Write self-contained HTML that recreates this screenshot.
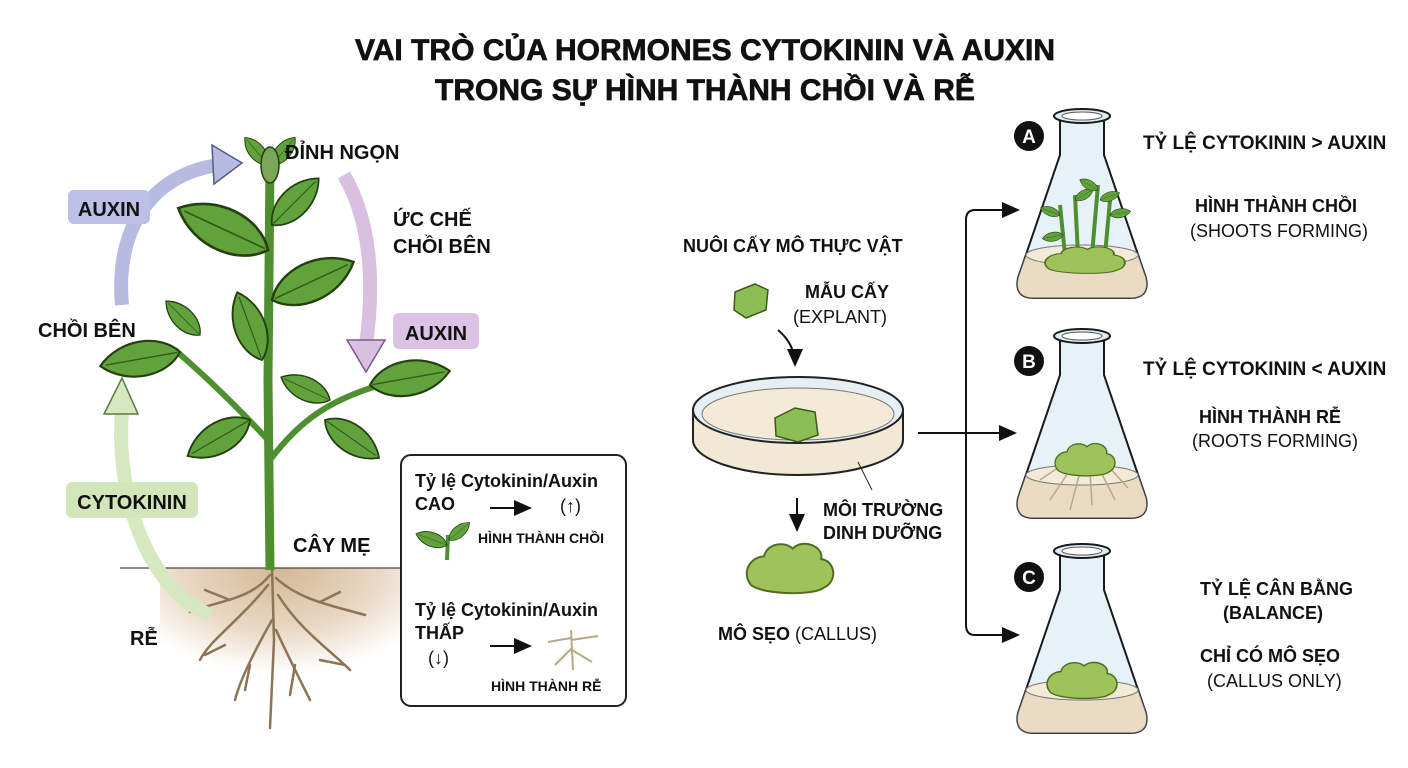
<!DOCTYPE html>
<html><head><meta charset="utf-8"><style>
body{margin:0;background:#fff;}
svg{display:block;}
text{font-family:"Liberation Sans","DejaVu Sans",sans-serif;font-weight:bold;fill:#111;}
.n{font-weight:normal;}
</style></head><body>
<svg width="1408" height="768" viewBox="0 0 1408 768" xmlns="http://www.w3.org/2000/svg">
<defs>
<radialGradient id="soilr" cx="0.5" cy="0" r="0.7"><stop offset="0" stop-color="#d4b694"/><stop offset="0.6" stop-color="#ead9c6"/><stop offset="1" stop-color="#fff"/></radialGradient>
<marker id="ah" markerWidth="10" markerHeight="10" refX="8" refY="5" orient="auto"><path d="M0,1 L9,5 L0,9 Z" fill="#111"/></marker>
<g id="leaf"><path d="M0,0 C12,-16 42,-18 60,0 C42,18 12,16 0,0 Z" fill="#62a23c" stroke="#23400f" stroke-width="1.6"/><path d="M2,0 L56,0" stroke="#2f5a17" stroke-width="1"/></g>
<g id="flask">
<path d="M-22,8 L-22,45 L-64,168 Q-68,188 -48,188 L48,188 Q68,188 64,168 L22,45 L22,8 Z" fill="#e6f2f8" stroke="#1a1a1a" stroke-width="2"/>
<path d="M-56,145 Q0,132 56,145 L64,168 Q68,188 48,188 L-48,188 Q-68,188 -64,168 Z" fill="#eadcc4" stroke="#555" stroke-width="1"/>
<ellipse cx="0" cy="145" rx="56" ry="10" fill="#f3ead8" stroke="#777" stroke-width="1"/>
<ellipse cx="0" cy="6" rx="28" ry="7" fill="#dcedf5" stroke="#1a1a1a" stroke-width="2"/>
<ellipse cx="0" cy="6" rx="20" ry="4" fill="#fff" stroke="#555" stroke-width="1"/>
</g>
<g id="callus"><path d="M-30,10 C-38,0 -30,-12 -20,-12 C-18,-22 -4,-24 2,-18 C10,-26 26,-20 24,-10 C36,-8 36,8 26,12 C20,18 -20,18 -30,10 Z" fill="#9dc35a" stroke="#4f6b22" stroke-width="1.5"/></g>
</defs>

<text x="705" y="60" text-anchor="middle" font-size="30" stroke="#111" stroke-width="0.7">VAI TRÒ CỦA HORMONES CYTOKININ VÀ AUXIN</text>
<text x="705" y="100" text-anchor="middle" font-size="30" stroke="#111" stroke-width="0.7">TRONG SỰ HÌNH THÀNH CHỒI VÀ RỄ</text>

<rect x="160" y="568" width="240" height="150" fill="url(#soilr)"/>
<line x1="120" y1="568" x2="400" y2="568" stroke="#444" stroke-width="1.2"/>
<g stroke="#8c7456" stroke-width="2.5" fill="none" stroke-linecap="round">
<path d="M272,568 L274,640 L270,728"/>
<path d="M270,575 C250,600 220,600 190,612"/>
<path d="M268,585 C240,620 210,640 200,660"/>
<path d="M276,578 C300,600 330,605 365,615"/>
<path d="M278,595 C300,630 330,650 350,670"/>
<path d="M272,620 C255,650 240,680 235,700"/>
<path d="M276,630 C290,660 300,680 310,700"/>
<path d="M230,600 L205,590 M320,602 L340,592 M225,645 L205,655 M320,660 L345,665 M250,665 L245,690 M295,665 L290,695"/>
</g>
<path d="M270,570 L268,380 L270,165" stroke="#4f8f2f" stroke-width="9" fill="none"/>
<path d="M268,440 C240,410 210,380 175,350" stroke="#4f8f2f" stroke-width="6" fill="none"/>
<path d="M270,460 C300,420 330,400 380,385" stroke="#4f8f2f" stroke-width="6" fill="none"/>
<g>
<use href="#leaf" transform="translate(268,165) rotate(-130) scale(0.6)"/>
<use href="#leaf" transform="translate(272,165) rotate(-50) scale(0.6)"/>
<ellipse cx="270" cy="165" rx="9" ry="18" fill="#7aa655" stroke="#23400f" stroke-width="1.5"/>
<use href="#leaf" transform="translate(268,250) rotate(-155) scale(1.65)"/>
<use href="#leaf" transform="translate(272,225) rotate(-45) scale(1.1)"/>
<use href="#leaf" transform="translate(272,300) rotate(-25) scale(1.5)"/>
<use href="#leaf" transform="translate(262,360) rotate(-110) scale(1.2)"/>
<use href="#leaf" transform="translate(180,352) rotate(170) scale(1.35)"/>
<use href="#leaf" transform="translate(200,335) rotate(-135) scale(0.8)"/>
<use href="#leaf" transform="translate(250,420) rotate(150) scale(1.2)"/>
<use href="#leaf" transform="translate(330,400) rotate(-155) scale(0.9)"/>
<use href="#leaf" transform="translate(370,385) rotate(-10) scale(1.35)"/>
<use href="#leaf" transform="translate(325,420) rotate(35) scale(1.1)"/>
</g>
<path d="M122,305 C115,230 150,175 218,165" stroke="#b7bbe0" stroke-width="14" fill="none"/>
<path d="M212,145 L242,163 L214,184 Z" fill="#b7bbe0" stroke="#555a8a" stroke-width="1.5"/>
<rect x="68" y="190" width="82" height="34" rx="6" fill="#bcc0e6"/>
<text x="109" y="216" text-anchor="middle" font-size="20">AUXIN</text>
<path d="M344,175 C370,220 375,280 366,345" stroke="#d9bfe0" stroke-width="14" fill="none"/>
<path d="M347,340 L366,372 L385,340 Z" fill="#d9bfe0" stroke="#7a5a8a" stroke-width="1.5"/>
<rect x="393" y="313" width="86" height="36" rx="6" fill="#dcc3e5"/>
<text x="436" y="340" text-anchor="middle" font-size="20">AUXIN</text>
<path d="M210,615 C150,590 115,500 122,410" stroke="#d5e8bf" stroke-width="14" fill="none"/>
<path d="M104,414 L122,378 L138,414 Z" fill="#d5e8bf" stroke="#5a7a3a" stroke-width="1.5"/>
<rect x="66" y="482" width="132" height="36" rx="6" fill="#d3e6bb"/>
<text x="132" y="509" text-anchor="middle" font-size="20">CYTOKININ</text>

<text x="285" y="159" font-size="20">ĐỈNH NGỌN</text>
<text x="393" y="226" font-size="20">ỨC CHẾ</text>
<text x="393" y="253" font-size="20">CHỒI BÊN</text>
<text x="38" y="337" font-size="20">CHỒI BÊN</text>
<text x="293" y="552" font-size="20">CÂY MẸ</text>
<text x="130" y="645" font-size="20">RỄ</text>

<rect x="401" y="455" width="225" height="251" rx="10" fill="#fff" stroke="#222" stroke-width="2"/>
<text x="415" y="487" font-size="18">Tỷ lệ Cytokinin/Auxin</text>
<text x="415" y="510" font-size="18">CAO</text>
<line x1="490" y1="508" x2="530" y2="508" stroke="#111" stroke-width="2" marker-end="url(#ah)"/>
<text x="560" y="512" font-size="18" class="n">(↑)</text>
<text x="478" y="543" font-size="14">HÌNH THÀNH CHỒI</text>
<path d="M447,560 L448,535" stroke="#4f8f2f" stroke-width="4"/>
<use href="#leaf" transform="translate(447,545) rotate(-160) scale(0.55)"/>
<use href="#leaf" transform="translate(449,540) rotate(-40) scale(0.45)"/>
<text x="415" y="616" font-size="18">Tỷ lệ Cytokinin/Auxin</text>
<text x="415" y="639" font-size="18">THẤP</text>
<text x="428" y="664" font-size="18" class="n">(↓)</text>
<line x1="490" y1="646" x2="530" y2="646" stroke="#111" stroke-width="2" marker-end="url(#ah)"/>
<g stroke="#b8a886" stroke-width="2" fill="none"><path d="M571,630 L573,670 M571,638 L548,642 M571,640 L598,636 M572,648 L555,665 M572,650 L592,662"/></g>
<text x="491" y="691" font-size="14">HÌNH THÀNH RỄ</text>

<text x="683" y="252" font-size="18">NUÔI CẤY MÔ THỰC VẬT</text>
<path d="M735,292 L755,284 L768,290 L766,310 L746,318 L734,310 Z" fill="#8bbf55" stroke="#3a5a1a" stroke-width="1.5"/>
<text x="805" y="298" font-size="18">MẪU CẤY</text>
<text x="793" y="323" font-size="18" class="n">(EXPLANT)</text>
<path d="M778,330 C790,340 795,352 795,365" stroke="#111" stroke-width="2" fill="none" marker-end="url(#ah)"/>
<path d="M693,410 L693,440 A105,35 0 0 0 903,440 L903,410" fill="#f2e8d6" stroke="#222" stroke-width="2"/>
<ellipse cx="798" cy="410" rx="105" ry="33" fill="#e6f0f4" stroke="#222" stroke-width="2"/>
<ellipse cx="798" cy="414" rx="96" ry="26" fill="#f3ead8" stroke="#777" stroke-width="1"/>
<path d="M775,418 L795,408 L815,412 L818,435 L798,442 L776,436 Z" fill="#8bbf55" stroke="#3a5a1a" stroke-width="1.5"/>
<line x1="858" y1="462" x2="872" y2="490" stroke="#222" stroke-width="1"/>
<text x="823" y="516" font-size="18">MÔI TRƯỜNG</text>
<text x="823" y="539" font-size="18">DINH DƯỠNG</text>
<line x1="797" y1="498" x2="797" y2="530" stroke="#111" stroke-width="2" marker-end="url(#ah)"/>
<use href="#callus" transform="translate(790,572) scale(1.3)"/>
<text x="718" y="640" font-size="18">MÔ SẸO <tspan class="n">(CALLUS)</tspan></text>

<line x1="918" y1="433" x2="1015" y2="433" stroke="#111" stroke-width="2" marker-end="url(#ah)"/>
<path d="M1015,210 L975,210 Q966,210 966,220 L966,625 Q966,635 975,635 L1015,635" stroke="#111" stroke-width="2" fill="none"/>
<line x1="1000" y1="210" x2="1018" y2="210" stroke="#111" stroke-width="2" marker-end="url(#ah)"/>
<line x1="1000" y1="635" x2="1018" y2="635" stroke="#111" stroke-width="2" marker-end="url(#ah)"/>

<use href="#flask" transform="translate(1082,110)"/>
<g stroke="#4f8f2f" stroke-width="4" fill="none"><path d="M1065,255 L1060,205 M1078,255 L1075,195 M1092,255 L1098,185 M1105,255 L1110,200"/></g>
<use href="#leaf" transform="translate(1060,215) rotate(-160) scale(0.35)"/>
<use href="#leaf" transform="translate(1075,200) rotate(-30) scale(0.35)"/>
<use href="#leaf" transform="translate(1098,190) rotate(-150) scale(0.35)"/>
<use href="#leaf" transform="translate(1100,200) rotate(-20) scale(0.35)"/>
<use href="#leaf" transform="translate(1110,215) rotate(-10) scale(0.35)"/>
<use href="#leaf" transform="translate(1063,235) rotate(170) scale(0.35)"/>
<use href="#callus" transform="translate(1085,262) scale(1.2,0.7)"/>
<use href="#flask" transform="translate(1082,330)"/>
<g stroke="#b8a886" stroke-width="1.5" fill="none"><path d="M1070,470 L1050,500 M1080,472 L1070,510 M1090,472 L1092,505 M1100,470 L1115,500 M1108,466 L1128,488 M1062,465 L1040,480"/></g>
<use href="#callus" transform="translate(1085,462) scale(0.9,0.85)"/>
<use href="#flask" transform="translate(1082,545)"/>
<use href="#callus" transform="translate(1082,683) scale(1.05,0.95)"/>

<circle cx="1029" cy="136" r="15" fill="#111"/><text x="1029" y="143" text-anchor="middle" font-size="19" style="fill:#fff">A</text>
<circle cx="1029" cy="361" r="15" fill="#111"/><text x="1029" y="368" text-anchor="middle" font-size="19" style="fill:#fff">B</text>
<circle cx="1029" cy="577" r="15" fill="#111"/><text x="1029" y="584" text-anchor="middle" font-size="19" style="fill:#fff">C</text>

<text x="1143" y="149" font-size="19">TỶ LỆ CYTOKININ &gt; AUXIN</text>
<text x="1195" y="212" font-size="18">HÌNH THÀNH CHỒI</text>
<text x="1190" y="237" font-size="18" class="n">(SHOOTS FORMING)</text>
<text x="1143" y="375" font-size="19">TỶ LỆ CYTOKININ &lt; AUXIN</text>
<text x="1199" y="423" font-size="18">HÌNH THÀNH RỄ</text>
<text x="1192" y="447" font-size="18" class="n">(ROOTS FORMING)</text>
<text x="1200" y="595" font-size="18">TỶ LỆ CÂN BẰNG</text>
<text x="1223" y="619" font-size="18">(BALANCE)</text>
<text x="1200" y="662" font-size="18">CHỈ CÓ MÔ SẸO</text>
<text x="1207" y="687" font-size="18" class="n">(CALLUS ONLY)</text>
</svg>
</body></html>
